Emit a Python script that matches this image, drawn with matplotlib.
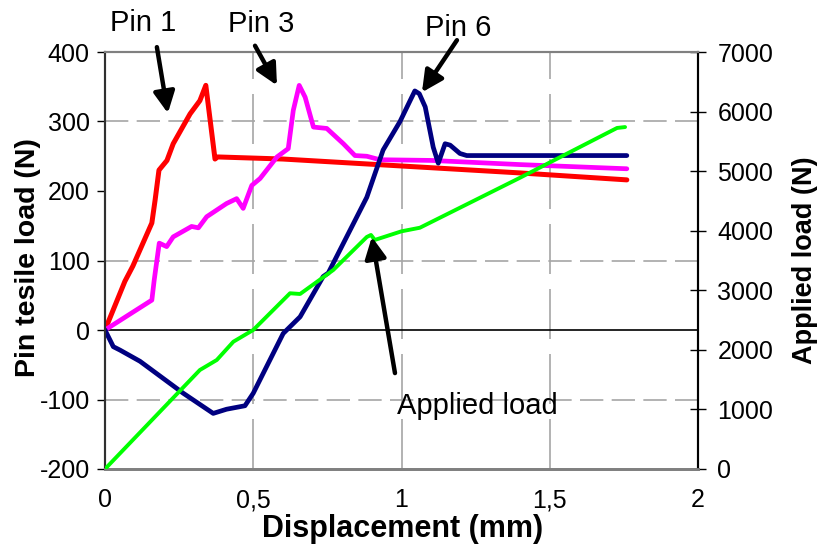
import matplotlib
matplotlib.use("Agg")
import matplotlib.pyplot as plt

plt.rcParams['font.family'] = ['Liberation Sans', 'DejaVu Sans']
plt.rcParams['axes.unicode_minus'] = False

# ---- data ----
pin1_x = [0, 0.067, 0.094, 0.158, 0.169, 0.182, 0.209, 0.23, 0.287, 0.32, 0.34, 0.371, 0.38, 0.6, 1.0, 1.4, 1.76]
pin1_y = [0, 70, 92, 154, 187, 230, 244, 268, 311, 330, 352, 246, 249, 246, 236, 226, 216]

pin3_x = [0, 0.158, 0.166, 0.183, 0.208, 0.23, 0.292, 0.315, 0.343, 0.41, 0.444, 0.466, 0.495, 0.523,
          0.58, 0.618, 0.635, 0.655, 0.675, 0.703, 0.748, 0.804, 0.843, 0.883, 0.927, 1.1, 1.4, 1.76]
pin3_y = [0, 43, 72, 125, 120, 134, 149, 147, 163, 182, 189, 175, 208, 218,
          249, 261, 316, 352, 335, 292, 290, 268, 251, 250, 245, 244, 238, 232]

pin6_x = [0, 0.028, 0.051, 0.118, 0.264, 0.365, 0.41, 0.472, 0.5, 0.601, 0.658, 0.736, 0.753, 0.883,
          0.938, 0.995, 1.029, 1.045, 1.06, 1.08, 1.107, 1.124, 1.147, 1.164, 1.197, 1.22, 1.76]
pin6_y = [0, -24, -29, -45, -91, -120, -114, -109, -91, -5, 19, 77, 82, 191,
          259, 300, 330, 344, 340, 321, 263, 240, 268, 266, 254, 251, 251]

applied_x = [0, 0.32, 0.377, 0.433, 0.5, 0.624, 0.658, 0.77, 0.883, 0.897, 0.91, 1.0, 1.062, 1.4, 1.727, 1.754]
applied_y = [0, 1662, 1830, 2137, 2334, 2950, 2938, 3341, 3895, 3929, 3845, 3990, 4050, 4890, 5725, 5740]

x_ticks = [0, 0.5, 1, 1.5, 2]
x_tick_labels = ["0", "0,5", "1", "1,5", "2"]
left_ticks = [-200, -100, 0, 100, 200, 300, 400]
right_ticks = [0, 1000, 2000, 3000, 4000, 5000, 6000, 7000]
h_grid = [300, 100, -100]

# ---- figure ----
fig = plt.figure(figsize=(8.21, 5.5), dpi=100)
ax1 = fig.add_axes([105/821, 1-469/550, (698-105)/821, (469-52)/550])
ax2 = ax1.twinx()

ax1.set_xlim(0, 2)
ax1.set_ylim(-200, 400)
ax2.set_ylim(0, 7000)

# grid
for v in h_grid:
    ax1.axhline(v, color='#a6a6a6', lw=1.2, dashes=(14, 5), zorder=0)
for v in x_ticks[1:-1]:
    ax1.axvline(v, color='#a6a6a6', lw=1.2, dashes=(30, 9), zorder=0)
ax1.axhline(0, color='black', lw=1.2, zorder=1)

ax1.plot(pin1_x, pin1_y, color='#ff0000', lw=3.6, solid_joinstyle='round', solid_capstyle='round', zorder=3)
ax1.plot(pin3_x, pin3_y, color='#ff00ff', lw=3.4, solid_joinstyle='round', solid_capstyle='round', zorder=4)
ax1.plot(pin6_x, pin6_y, color='#000080', lw=3.4, solid_joinstyle='round', solid_capstyle='round', zorder=5)
ax2.plot(applied_x, applied_y, color='#00ff00', lw=2.8, solid_joinstyle='round', solid_capstyle='round', zorder=3)

# ticks
ax1.set_xticks(x_ticks)
ax1.set_xticklabels(x_tick_labels)
ax1.set_yticks(left_ticks)
ax2.set_yticks(right_ticks)
ax1.tick_params(axis='x', length=0, pad=14, labelsize=18)
ax1.tick_params(axis='y', direction='out', length=6, width=1, pad=5, labelsize=18)
ax2.tick_params(axis='y', direction='inout', length=12, width=1, pad=8, labelsize=18)

# spines
for a in (ax1, ax2):
    a.spines['top'].set_color('#808080')
    a.spines['top'].set_linewidth(1.5)
    a.spines['bottom'].set_color('#808080')
    a.spines['bottom'].set_linewidth(2)
    a.spines['left'].set_color('#303030')
    a.spines['left'].set_linewidth(1.5)
    a.spines['right'].set_color('black')
    a.spines['right'].set_linewidth(1.5)

# labels
fig.text(28/821, 1-258/550, "Pin tesile load (N)", rotation=90, ha='center', va='center',
         fontsize=20.5, fontweight='bold')
fig.text(403/821, 1-529/550, "Displacement (mm)", ha='center', va='center',
         fontsize=22, fontweight='bold')
fig.text(805/821, 1-260/550, "Applied load (N)", rotation=90, ha='center', va='center',
         fontsize=19.5, fontweight='bold')

# annotations
arrow = dict(arrowstyle='-|>', color='black', lw=3.2, mutation_scale=32, shrinkA=0, shrinkB=0)
ann_kw = dict(xycoords=ax1.transData, textcoords=ax1.transData, annotation_clip=False)
ax2.annotate("", xy=(0.212, 312), xytext=(0.175, 407), arrowprops=arrow, zorder=10, **ann_kw)
ax2.annotate("", xy=(0.58, 352), xytext=(0.506, 409), arrowprops=arrow, zorder=10, **ann_kw)
ax2.annotate("", xy=(1.069, 342), xytext=(1.187, 417), arrowprops=arrow, zorder=10, **ann_kw)
ax2.annotate("", xy=(0.90, 134), xytext=(0.978, -62), arrowprops=arrow, zorder=10, **ann_kw)

ax2.text(0.128, 442, "Pin 1", transform=ax1.transData, ha='center', va='center', fontsize=21, clip_on=False)
ax2.text(0.526, 440, "Pin 3", transform=ax1.transData, ha='center', va='center', fontsize=21, clip_on=False)
ax2.text(1.19, 434, "Pin 6", transform=ax1.transData, ha='center', va='center', fontsize=21, clip_on=False)
ax2.text(1.255, -109, "Applied load", transform=ax1.transData, ha='center', va='center', fontsize=21, clip_on=False)

fig.savefig("out.png", dpi=100)
